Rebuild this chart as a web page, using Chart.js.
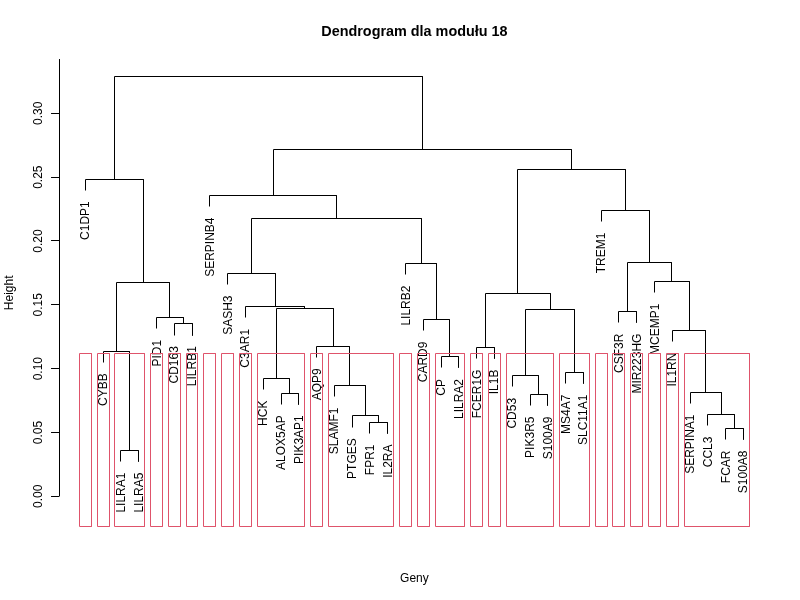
<!DOCTYPE html>
<html>
<head>
<meta charset="utf-8">
<script src="https://cdn.jsdelivr.net/npm/chart.js@4"></script>
<style>
html, body { margin: 0; padding: 0; background: #ffffff; }
canvas { display: block; }
</style>
</head>
<body>
<canvas id="chart" width="800" height="600"></canvas>
<script>
// ---------------- data ----------------
const chartTitle = 'Dendrogram dla modułu 18';
const xTitle = 'Geny';
const yTitle = 'Height';

// leaves in the plotted order (position 1..38)
const genes = [
  'C1DP1', 'CYBB', 'LILRA1', 'LILRA5', 'PID1', 'CD163', 'LILRB1', 'SERPINB4',
  'SASH3', 'C3AR1', 'HCK', 'ALOX5AP', 'PIK3AP1', 'AQP9', 'SLAMF1', 'PTGES',
  'FPR1', 'IL2RA', 'LILRB2', 'CARD9', 'CP', 'LILRA2', 'FCER1G', 'IL1B',
  'CD53', 'PIK3R5', 'S100A9', 'MS4A7', 'SLC11A1', 'TREM1', 'CSF3R', 'MIR223HG',
  'MCEMP1', 'IL1RN', 'SERPINA1', 'CCL3', 'FCAR', 'S100A8'
];

// hclust-style merges: negative = leaf position, positive = earlier merge (1-based)
const mergePairs = [
  [-3, -4], [-37, -38], [-17, -18], [-16, 3], [-36, 2], [-26, -27], [-12, -13],
  [-35, 5], [-15, 4], [-11, 7], [-25, 6], [-28, -29], [-21, -22], [-2, 1],
  [-23, -24], [-14, 9], [-34, 8], [-6, -7], [-20, 13], [-5, 18], [-31, -32],
  [11, 12], [10, 16], [-10, 23], [15, 22], [14, 20], [-33, 17], [-9, 24],
  [-19, 19], [21, 27], [28, 29], [-30, 30], [-8, 31], [-1, 26], [25, 32],
  [33, 35], [34, 36]
];

// merge heights (same order as mergePairs)
const mergeHeights = [
  0.0360, 0.0533, 0.0580, 0.0629, 0.0642, 0.0799, 0.0809,
  0.0815, 0.0869, 0.0924, 0.0945, 0.0971, 0.1093, 0.1138,
  0.1167, 0.1177, 0.1300, 0.1350, 0.1386, 0.1399, 0.1449,
  0.1465, 0.1471, 0.1485, 0.1590, 0.1676, 0.1684, 0.1747,
  0.1825, 0.1833, 0.2178, 0.2240, 0.2358, 0.2485, 0.2561,
  0.2718, 0.3292
];

const clusterCount = 25;
const yTicks = [0.00, 0.05, 0.10, 0.15, 0.20, 0.25, 0.30];

// ---------------- layout of the tree ----------------
const nLeaves = genes.length;
const nMerges = mergePairs.length;
const hangFraction = 0.03;
const hang = hangFraction * (Math.max(...mergeHeights) - Math.min(...mergeHeights));
const xMin = -0.48, xMax = nLeaves + 1.48;
const yMin = -0.0237, yMax = 0.3425;

const nodeX = [];
const leafEnd = [];
function childX(c) { return c < 0 ? -c : nodeX[c - 1]; }
function childY(c, h) {
  if (c < 0) { leafEnd[-c] = h - hang; return h - hang; }
  return mergeHeights[c - 1];
}
const linkData = mergePairs.map((p, j) => {
  const h = mergeHeights[j];
  const xl = childX(p[0]), xr = childX(p[1]);
  nodeX[j] = (xl + xr) / 2;
  return [
    { x: xl, y: childY(p[0], h) },
    { x: xl, y: h },
    { x: xr, y: h },
    { x: xr, y: childY(p[1], h) }
  ];
});

// clusters (like rect.hclust with k = clusterCount)
const firstCut = nMerges - (clusterCount - 1);
function leafRange(c) {
  if (c < 0) return [-c, -c];
  const p = mergePairs[c - 1];
  const a = leafRange(p[0]), b = leafRange(p[1]);
  return [Math.min(a[0], b[0]), Math.max(a[1], b[1])];
}
const clusters = [];
function collect(c) {
  if (c > 0 && c - 1 >= firstCut) {
    collect(mergePairs[c - 1][0]);
    collect(mergePairs[c - 1][1]);
  } else {
    clusters.push(leafRange(c));
  }
}
collect(nMerges);
const cutHeight = (mergeHeights[firstCut] + mergeHeights[firstCut - 1]) / 2;
const rectData = clusters.map(r => {
  const l = r[0] - 0.34, rr = r[1] + 0.33;
  return [
    { x: l, y: yMin }, { x: l, y: cutHeight }, { x: rr, y: cutHeight },
    { x: rr, y: yMin }, { x: l, y: yMin }
  ];
});

// ---------------- chart ----------------
const FONT = "'Liberation Sans', Arial, Helvetica, sans-serif";
Chart.defaults.font.family = FONT;
Chart.defaults.color = '#000000';

const datasets = [];
rectData.forEach(d => datasets.push({
  data: d, showLine: true, borderColor: '#DF536B', borderWidth: 1,
  pointRadius: 0, fill: false, tension: 0, clip: false
}));
linkData.forEach(d => datasets.push({
  data: d, showLine: true, borderColor: '#000000', borderWidth: 1,
  pointRadius: 0, fill: false, tension: 0, clip: false
}));

// snap 1px lines onto pixel centres so they render crisp
const crispLines = {
  id: 'crispLines',
  afterDatasetsUpdate(chart) {
    chart.getSortedVisibleDatasetMetas().forEach(meta => {
      meta.data.forEach(pt => {
        pt.x = Math.floor(pt.x) + 0.5;
        pt.y = Math.floor(pt.y) + 0.5;
      });
    });
  }
};

const leafLabels = {
  id: 'leafLabels',
  beforeDatasetsDraw(chart) {
    const { ctx, scales } = chart;
    ctx.save();
    ctx.font = '12px ' + FONT;
    ctx.fillStyle = '#000000';
    ctx.textAlign = 'right';
    ctx.textBaseline = 'alphabetic';
    genes.forEach((g, i) => {
      const px = scales.x.getPixelForValue(i + 1);
      const py = scales.y.getPixelForValue(leafEnd[i + 1]) + 11;
      ctx.save();
      ctx.translate(px + 4, py);
      ctx.rotate(-Math.PI / 2);
      ctx.fillText(g, 0, 0);
      ctx.restore();
    });
    ctx.restore();
  }
};

const axisLine = {
  id: 'axisLine',
  afterDraw(chart) {
    const { ctx, chartArea, scales } = chart;
    const x = Math.round(chartArea.left - 0.5) + 0.5;
    ctx.save();
    ctx.strokeStyle = '#000000';
    ctx.lineWidth = 1;
    ctx.beginPath();
    ctx.moveTo(x, Math.round(scales.y.getPixelForValue(yTicks[0]) - 0.5) + 0.5);
    ctx.lineTo(x, chartArea.top);
    ctx.stroke();
    ctx.restore();
  }
};

new Chart(document.getElementById('chart'), {
  type: 'scatter',
  data: { datasets },
  plugins: [crispLines, leafLabels, axisLine],
  options: {
    responsive: false,
    animation: false,
    devicePixelRatio: 1,
    layout: { padding: { left: 0, right: 30.2, top: 0, bottom: 0 } },
    plugins: {
      legend: { display: false },
      tooltip: { enabled: false },
      title: {
        display: true,
        text: chartTitle,
        fullSize: false,
        color: '#000000',
        font: { family: FONT, size: 14.4, weight: 'bold' },
        padding: { top: 22.9, bottom: 18.86 }
      }
    },
    scales: {
      x: {
        type: 'linear',
        min: xMin,
        max: xMax,
        bounds: 'data',
        grid: { display: false },
        border: { display: false },
        ticks: { display: false },
        title: {
          display: true,
          text: xTitle,
          color: '#000000',
          font: { family: FONT, size: 12 },
          padding: { top: 0, bottom: 14.5 }
        },
        afterFit(s) { s.height = 73.44; }
      },
      y: {
        type: 'linear',
        min: yMin,
        max: yMax,
        bounds: 'data',
        afterBuildTicks(s) { s.ticks = yTicks.map(v => ({ value: v })); },
        grid: {
          display: true,
          drawOnChartArea: false,
          drawTicks: true,
          tickLength: 8,
          color: '#000000',
          lineWidth: 1
        },
        border: { display: false },
        ticks: {
          minRotation: 90,
          maxRotation: 90,
          crossAlign: 'center',
          padding: 0.8,
          color: '#000000',
          font: { family: FONT, size: 12 },
          callback: v => Number(v).toFixed(2)
        },
        title: {
          display: true,
          text: yTitle,
          color: '#000000',
          font: { family: FONT, size: 12 },
          padding: { top: 2.5, bottom: 0 }
        },
        afterFit(s) { s.width = 59.04; }
      }
    }
  }
});
</script>
</body>
</html>
